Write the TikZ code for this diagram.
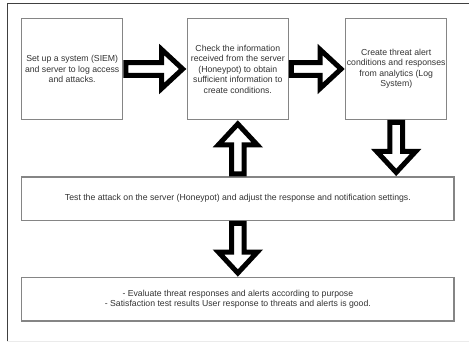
\documentclass[tikz,border=0pt]{standalone}
\usepackage{fontspec}
\setmainfont{Liberation Sans}
\usetikzlibrary{calc}

\tikzset{
	stepbox/.style={rectangle,draw=black!48,line width=1.3pt,fill=white,inner sep=0pt,
		align=center,text=black!80,font=\fontsize{8.7}{10.5}\selectfont},
	bigarrow/.style={draw=black,line width=5pt,fill=white,line join=miter}
}
% block arrow from #1 (tail) to #2 (tip)
\newcommand{\fatarrow}[2]{%
	\coordinate (ta) at ($(#1)!2.5pt!(#2)$);
	\coordinate (tb) at ($(#2)!4pt!(#1)$);
	\coordinate (hb) at ($(tb)!21pt!(ta)$);
	\draw[bigarrow] ($(ta)!6.3pt!90:(tb)$) -- ($(hb)!6.3pt!-90:(ta)$) -- ($(hb)!19.5pt!-90:(ta)$)
		-- (tb) -- ($(hb)!19.5pt!90:(ta)$) -- ($(hb)!6.3pt!90:(ta)$) -- ($(ta)!6.3pt!-90:(tb)$) -- cycle;
}

\begin{document}
\begin{tikzpicture}[x=1pt,y=-1pt]
	\useasboundingbox (0,0) rectangle (469,342);
	% page frame
	\draw[black!75,line width=1pt] (7.3,342) -- (7.3,4) -- (469,4);
	\draw[black!8,line width=0.8pt] (7.3,341) -- (469,341);

	% top row
	\node (setup) at (72.2,69) [stepbox,minimum width=101pt,minimum height=100.6pt]
		{Set up a system (SIEM)\\and server to log access\\and attacks.};
	\node (check) at (237.8,69) [stepbox,minimum width=101pt,minimum height=100.6pt]
		{Check the information\\received from the server\\(Honeypot) to obtain\\sufficient information to\\create conditions.};
	\node (create) at (396.2,69) [stepbox,minimum width=101pt,minimum height=100.6pt]
		{Create threat alert\\conditions and responses\\from analytics (Log\\System)};

	% wide boxes
	\node (test) at (237.85,198.7) [stepbox,minimum width=432.3pt,minimum height=43.3pt]
		{Test the attack on the server (Honeypot) and adjust the response and notification settings.};
	\node (eval) at (237.85,299.3) [stepbox,minimum width=432.3pt,minimum height=43.3pt]
		{- Evaluate threat responses and alerts according to purpose\\- Satisfaction test results User response to threats and alerts is good.};

	% block arrows
	\coordinate (testin) at (create.south |- test.north);
	\coordinate (testout) at (check.south |- test.north);
	\fatarrow{setup.east}{check.west}
	\fatarrow{check.east}{create.west}
	\fatarrow{create.south}{testin}
	\fatarrow{testout}{check.south}
	\fatarrow{test.south}{eval.north}
\end{tikzpicture}
\end{document}
